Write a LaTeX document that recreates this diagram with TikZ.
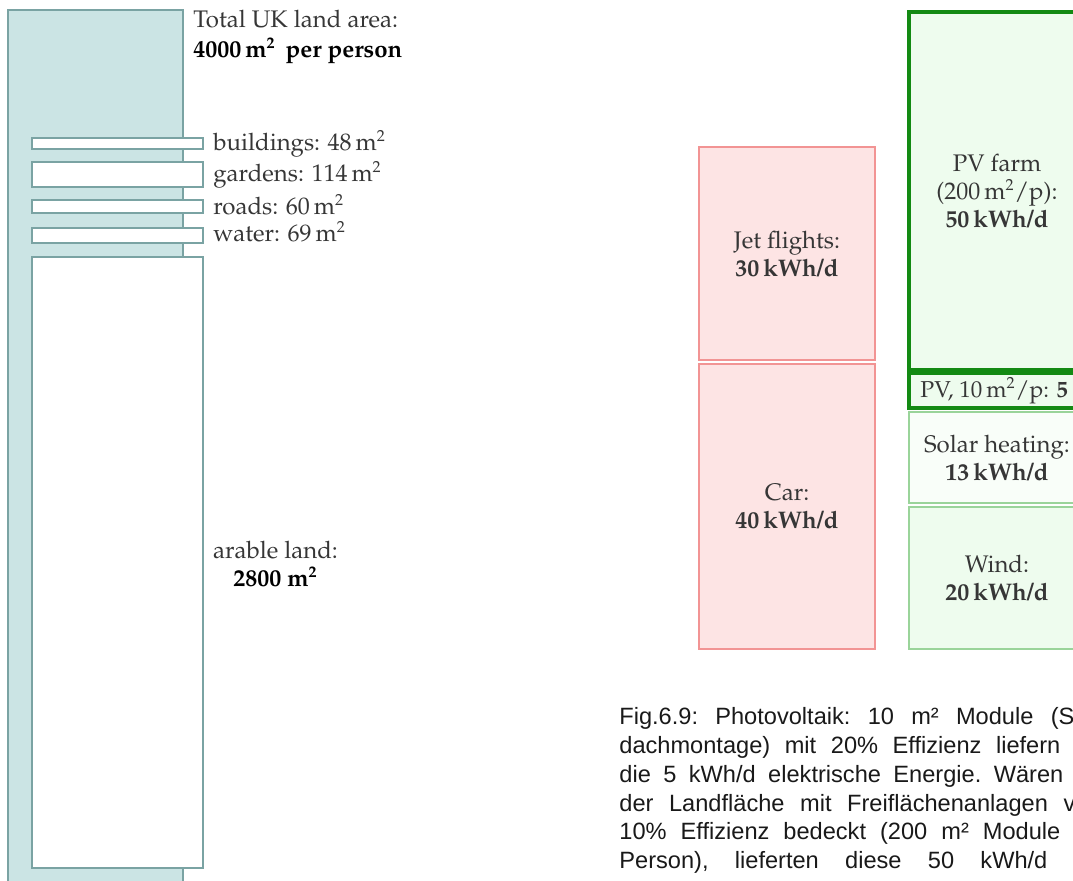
\documentclass[tikz,border=0pt]{standalone}
\usepackage{fontspec}
\newfontfamily\capfont{Liberation Sans}
\newcommand\palfont{\fontencoding{T1}\fontfamily{ppl}\selectfont}
\definecolor{landfill}{HTML}{CBE4E4}
\definecolor{landline}{HTML}{7AA3A3}
\definecolor{usefill}{HTML}{FDE4E4}
\definecolor{useline}{HTML}{F29494}
\definecolor{greenfill}{HTML}{EEFCEE}
\definecolor{solarfill}{HTML}{F9FEF9}
\definecolor{greenline}{HTML}{9AD49A}
\definecolor{pvline}{HTML}{138A13}
\definecolor{textgray}{HTML}{363636}
\begin{document}
\begin{tikzpicture}[x=0.5pt,y=-0.5pt,
  box/.style={draw, inner sep=0pt, outer sep=0pt, line width=0.6pt},
  landbox/.style={box, draw=landline, fill=landfill},
  plotbox/.style={box, draw=landline, fill=white},
  serif/.style={font=\palfont\fontsize{12}{14}\selectfont, text=textgray},
  usebox/.style={box, serif, draw=useline, fill=usefill, align=center},
  greenbox/.style={box, serif, draw=greenline, fill=greenfill, align=center},
  pvbox/.style={box, serif, draw=pvline, fill=greenfill, line width=1.8pt, align=center},
  lbl/.style={serif, anchor=base west, inner sep=0pt},
  clbl/.style={serif, anchor=base, inner sep=0pt},
  caplbl/.style={anchor=base west, inner sep=0pt, font=\capfont\fontsize{11.8}{14}\selectfont\frenchspacing, text=black!90}]
\useasboundingbox (0,0) rectangle (1073,880);
\clip (0,0) rectangle (1073,880);

% land use per person
\node[landbox, minimum width=87.5pt, minimum height=445pt] (land) at (95.5,455) {};
\node[plotbox, minimum width=85.5pt, minimum height=5.5pt] (buildings) at (117.5,143.5) {};
\node[plotbox, minimum width=85.5pt, minimum height=12.5pt] (gardens) at (117.5,174.5) {};
\node[plotbox, minimum width=85.5pt, minimum height=6.5pt] (roads) at (117.5,206.5) {};
\node[plotbox, minimum width=85.5pt, minimum height=7.5pt] (water) at (117.5,235.5) {};
\node[plotbox, minimum width=85.5pt, minimum height=305.5pt] (arable) at (117.5,562.5) {};

\node[lbl] (total) at (193,27) {Total UK land area:};
\node[lbl, text=black] (totalval) at (193,57) {\textbf{4000\,m\textsuperscript{2}\, per person}};
\node[lbl] (lbuild) at (213,150) {buildings: 48\,m\textsuperscript{2}};
\node[lbl] (lgard) at (213,181) {gardens: 114\,m\textsuperscript{2}};
\node[lbl] (lroad) at (213,214) {roads: 60\,m\textsuperscript{2}};
\node[lbl] (lwater) at (213,241) {water: 69\,m\textsuperscript{2}};
\node[clbl] (larable) at (275.5,558) {arable land:};
\node[clbl, text=black] (larableval) at (275.5,586) {\textbf{2800 m\textsuperscript{2}}};

% consumption
\node[usebox, minimum width=88pt, minimum height=106.5pt] (jet) at (787,253.5) {Jet flights:\\\textbf{30\,kWh/d}};
\node[usebox, minimum width=88pt, minimum height=142.5pt] (car) at (787,506.5) {Car:\\\textbf{40\,kWh/d}};

% production
\node[greenbox, fill=solarfill, minimum width=88pt, minimum height=45.5pt] (solar) at (997,457.5) {Solar heating:\\\textbf{13\,kWh/d}};
\node[greenbox, minimum width=88pt, minimum height=71pt] (wind) at (997,578) {Wind:\\\textbf{20\,kWh/d}};
\node[pvbox, minimum width=88pt, minimum height=179pt] (pvfarm) at (997,191) {PV farm\\(200\,m\textsuperscript{2}/p):\\\textbf{50\,kWh/d}};
\node[pvbox, minimum width=88pt, minimum height=17.5pt] (pvroof) at (997,390.5) {};
\node[lbl, font=\palfont\fontsize{11.5}{14}\selectfont] (lpvroof) at (920,397) {PV, 10\,m\textsuperscript{2}/p: \textbf{5}};

% caption
\node[caplbl] (cap1) at (619,724) {\makebox[227.5pt][s]{Fig.6.9: Photovoltaik: 10 m² Module (S}};
\node[caplbl] (cap2) at (619,753) {\makebox[220.5pt][s]{dachmontage) mit 20\% Effizienz liefern}};
\node[caplbl] (cap3) at (619,782) {\makebox[222pt][s]{die 5 kWh/d elektrische Energie. Wären}};
\node[caplbl] (cap4) at (619,811) {\makebox[228pt][s]{der Landfläche mit Freiflächenanlagen v}};
\node[caplbl] (cap5) at (619,839) {\makebox[220.5pt][s]{10\% Effizienz bedeckt (200 m² Module}};
\node[caplbl] (cap6) at (619,868) {\makebox[214pt][s]{Person), lieferten diese 50 kWh/d}};
\end{tikzpicture}
\end{document}
